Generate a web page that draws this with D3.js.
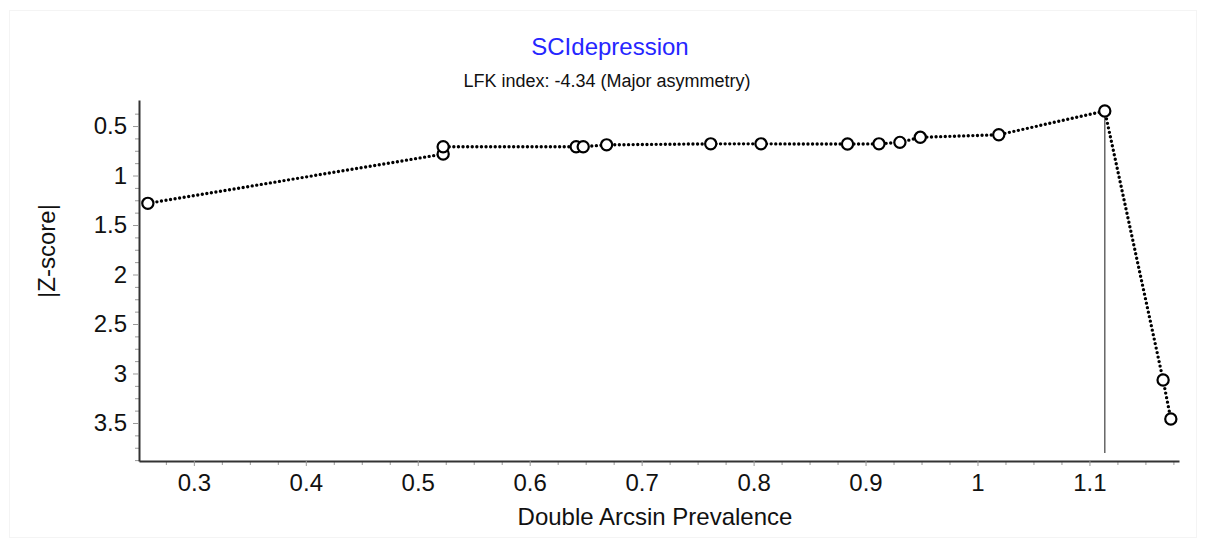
<!DOCTYPE html>
<html>
<head>
<meta charset="utf-8">
<script src="https://cdn.jsdelivr.net/npm/d3@7"></script>
<style>
  html, body { margin: 0; padding: 0; background: #fff; }
  svg text { font-family: "Liberation Sans", Arial, sans-serif; }
</style>
</head>
<body>
<div id="chart"></div>
<script>
// Doi plot values
const prevalence = [0.2589, 0.5227, 0.5227, 0.6415, 0.6478, 0.6687, 0.7617, 0.8066,
                    0.8839, 0.9120, 0.9307, 0.9489, 1.0190, 1.1137, 1.1658, 1.1727];
const zscore     = [1.281, 0.783, 0.709, 0.709, 0.709, 0.690, 0.680, 0.680,
                    0.682, 0.680, 0.665, 0.614, 0.588, 0.348, 3.066, 3.460];
const xTicks = [0.3, 0.4, 0.5, 0.6, 0.7, 0.8, 0.9, 1, 1.1];
const yTicks = [0.5, 1, 1.5, 2, 2.5, 3, 3.5];
const peakX = 1.1137; // vertical reference line at the point with lowest |Z|

const width = 1206, height = 547;
const m = { top: 100, right: 27, bottom: 86, left: 139 };

const svg = d3.select("#chart").append("svg")
  .attr("width", width)
  .attr("height", height);

// faint frame
svg.append("rect")
  .attr("x", 9.5).attr("y", 10.5)
  .attr("width", 1187).attr("height", 527)
  .attr("fill", "none")
  .attr("stroke", "#f4f4f4");

const x = d3.scaleLinear()
  .domain([0.251, 1.180])
  .range([m.left, width - m.right]);

const y = d3.scaleLinear()
  .domain([0.237, 3.884])
  .range([m.top, height - m.bottom]);

// ----- minor ticks -----
const xMinor = d3.range(0.275, 1.1751, 0.025).filter(v => Math.abs(v * 10 - Math.round(v * 10)) > 1e-6);
const yMinor = d3.range(0.375, 3.88, 0.125).filter(v => Math.abs(v * 2 - Math.round(v * 2)) > 1e-6);

svg.append("g")
  .attr("transform", `translate(0,${y.range()[1]})`)
  .call(d3.axisBottom(x).tickValues(xMinor).tickSize(4).tickFormat(""))
  .call(g => g.select(".domain").remove())
  .call(g => g.selectAll(".tick line").attr("stroke", "#999"));

svg.append("g")
  .attr("transform", `translate(${m.left},0)`)
  .call(d3.axisLeft(y).tickValues(yMinor).tickSize(4).tickFormat(""))
  .call(g => g.select(".domain").remove())
  .call(g => g.selectAll(".tick line").attr("stroke", "#999"));

// ----- X axis -----
const xAxis = svg.append("g")
  .attr("transform", `translate(0,${y.range()[1]})`)
  .call(d3.axisBottom(x)
    .tickValues(xTicks)
    .tickFormat(d => d3.format("")(+d.toFixed(1)))
    .tickSize(5)
    .tickSizeOuter(0)
    .tickPadding(8));

xAxis.select(".domain").attr("stroke", "#333").attr("stroke-width", 2);
xAxis.selectAll(".tick line").attr("stroke", "#999");
xAxis.selectAll("text")
  .attr("font-size", 24)
  .attr("fill", "#111")
  .attr("dy", "0.71em");

// ----- Y axis -----
const yAxis = svg.append("g")
  .attr("transform", `translate(${m.left},0)`)
  .call(d3.axisLeft(y)
    .tickValues(yTicks)
    .tickFormat(d => d3.format("")(d))
    .tickSize(6)
    .tickSizeOuter(0)
    .tickPadding(6));

yAxis.select(".domain").attr("stroke", "#333").attr("stroke-width", 2);
yAxis.selectAll(".tick line").attr("stroke", "#999");
yAxis.selectAll("text")
  .attr("font-size", 24)
  .attr("fill", "#111");

// ----- titles -----
svg.append("text")
  .attr("x", 610).attr("y", 55)
  .attr("text-anchor", "middle")
  .attr("font-size", 24)
  .attr("fill", "#2626ff")
  .text("SCIdepression");

svg.append("text")
  .attr("x", 607).attr("y", 87)
  .attr("text-anchor", "middle")
  .attr("font-size", 18)
  .attr("fill", "#111")
  .text("LFK index: -4.34 (Major asymmetry)");

svg.append("text")
  .attr("x", 655).attr("y", 525)
  .attr("text-anchor", "middle")
  .attr("font-size", 24)
  .attr("fill", "#111")
  .text("Double Arcsin Prevalence");

svg.append("text")
  .attr("transform", "translate(55,251) rotate(-90)")
  .attr("text-anchor", "middle")
  .attr("font-size", 24)
  .attr("fill", "#111")
  .text("|Z-score|");

// ----- vertical reference line -----
const peakZ = zscore[prevalence.indexOf(peakX)];
svg.append("line")
  .attr("x1", x(peakX)).attr("x2", x(peakX))
  .attr("y1", y(peakZ)).attr("y2", y.range()[1] - 8)
  .attr("stroke", "#666")
  .attr("stroke-width", 1.5);

// ----- dotted curve -----
const pts = prevalence.map((p, i) => ({ p, z: zscore[i] }));

svg.append("path")
  .datum(pts)
  .attr("fill", "none")
  .attr("stroke", "#000")
  .attr("stroke-width", 3.4)
  .attr("stroke-linecap", "round")
  .attr("stroke-dasharray", "0 4.6")
  .attr("d", d3.line().x(d => x(d.p)).y(d => y(d.z)));

// ----- points -----
svg.append("g")
  .selectAll("circle")
  .data(pts)
  .join("circle")
  .attr("cx", d => x(d.p))
  .attr("cy", d => y(d.z))
  .attr("r", 5.6)
  .attr("fill", "#fff")
  .attr("stroke", "#000")
  .attr("stroke-width", 2.2);
</script>
</body>
</html>
